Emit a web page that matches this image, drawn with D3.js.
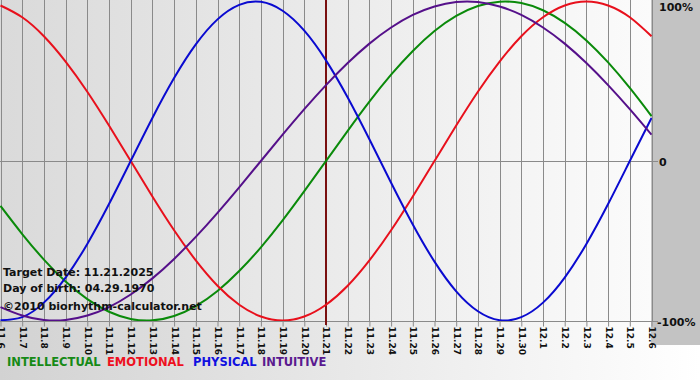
<!DOCTYPE html>
<html><head><meta charset="utf-8">
<script src="https://cdn.jsdelivr.net/npm/d3@7"></script>
<style>body{margin:0;padding:0;overflow:hidden}svg{display:block}text{font-family:"DejaVu Sans",Verdana,sans-serif}</style>
</head><body>
<svg id="c" width="700" height="380"></svg>
<script>
// ---- data ----
const days = ["11.6","11.7","11.8","11.9","11.10","11.11","11.12","11.13","11.14","11.15","11.16","11.17","11.18","11.19","11.20","11.21","11.22","11.23","11.24","11.25","11.26","11.27","11.28","11.29","11.30","12.1","12.2","12.3","12.4","12.5","12.6"];
const physical = [-0.998,-0.979,-0.888,-0.731,-0.520,-0.270,0,0.270,0.520,0.731,0.888,0.979,0.998,0.942,0.817,0.631,0.398,0.136,-0.136,-0.398,-0.631,-0.817,-0.942,-0.998,-0.979,-0.888,-0.731,-0.520,-0.270,0,0.270];
const emotional = [0.975,0.901,0.782,0.623,0.434,0.222,0,-0.222,-0.434,-0.623,-0.782,-0.901,-0.975,-1,-0.975,-0.901,-0.782,-0.623,-0.434,-0.222,0,0.222,0.434,0.623,0.782,0.901,0.975,1,0.975,0.901,0.782];
const intellectual = [-0.282,-0.458,-0.618,-0.756,-0.866,-0.945,-0.990,-0.999,-0.972,-0.910,-0.815,-0.690,-0.541,-0.372,-0.189,0,0.189,0.372,0.541,0.690,0.815,0.910,0.972,0.999,0.990,0.945,0.866,0.756,0.618,0.458,0.282];
const intuitive = [-0.916,-0.969,-0.997,-0.997,-0.969,-0.916,-0.837,-0.736,-0.614,-0.476,-0.325,-0.165,0,0.165,0.325,0.476,0.614,0.736,0.837,0.916,0.969,0.997,0.997,0.969,0.916,0.837,0.736,0.614,0.476,0.325,0.165];
const targetDay = "11.21";
const yTickLabels = [{v:1,t:"100%"},{v:0,t:"0"},{v:-1,t:"-100%"}];
const seriesNames = ["INTELLECTUAL","EMOTIONAL","PHYSICAL","INTUITIVE"];
const seriesColors = ["#0a8a0a","#e8101c","#0a0ad0","#55108a"];
const legendColors = ["#168a16","#ee1020","#1010e0","#5a1a90"];
const infoLines = ["Target Date: 11.21.2025","Day of birth: 04.29.1970","©2010 biorhythm-calculator.net"];

// ---- chart ----
const svg = d3.select("#c");
const W = 700, H = 380, PW = 651, PH = 321;
const defs = svg.append("defs");
const g1 = defs.append("linearGradient").attr("id","bg").attr("x1","0").attr("x2","1").attr("y1","0").attr("y2","0");
g1.append("stop").attr("offset","0").attr("stop-color","#d2d2d2");
g1.append("stop").attr("offset","1").attr("stop-color","#ffffff");
const g2 = defs.append("linearGradient").attr("id","pbg").attr("x1","0").attr("x2","1").attr("y1","0").attr("y2","0");
g2.append("stop").attr("offset","0").attr("stop-color","#dadada");
g2.append("stop").attr("offset","1").attr("stop-color","#fbfbfb");
defs.append("clipPath").attr("id","clip").append("rect").attr("x",0).attr("y",0).attr("width",PW+1).attr("height",PH);

svg.append("rect").attr("width",W).attr("height",H).attr("fill","url(#bg)");
svg.append("rect").attr("x",PW).attr("y",0).attr("width",W-PW).attr("height",345).attr("fill","#c3c3c3");
svg.append("rect").attr("x",0).attr("y",0).attr("width",PW).attr("height",PH).attr("fill","url(#pbg)");

const x = d3.scalePoint().domain(days).range([0.5, PW+0.5]).padding(0);
const y = d3.scaleLinear().domain([-1,1]).range([320.5,1.5]);

// vertical grid
svg.append("g").selectAll("line").data(days).join("line")
  .attr("x1",d=>Math.round(x(d))+0.5).attr("x2",d=>Math.round(x(d))+0.5)
  .attr("y1",0).attr("y2",PH).attr("stroke","#8a8a8a").attr("stroke-width",1);
// zero line
svg.append("line").attr("x1",0).attr("x2",PW+7).attr("y1",Math.round(y(0))+0.5).attr("y2",Math.round(y(0))+0.5)
  .attr("stroke","#8a8a8a");

// x axis
const ax = svg.append("g").attr("transform",`translate(0,${PH+0.5})`)
  .call(d3.axisBottom(x).tickSize(5).tickSizeOuter(0));
ax.select(".domain").attr("stroke","#8a8a8a").attr("d",`M0,0H${PW+7}`);
ax.selectAll(".tick line").attr("stroke","#8a8a8a");
ax.selectAll(".tick text").attr("transform","rotate(90)").attr("text-anchor","start")
  .attr("x",5).attr("y",0).attr("dy","0.34em")
  .attr("font-size","9px").attr("font-weight","bold").attr("fill","#111")
  .attr("font-family","DejaVu Sans");

// target line
svg.append("line").attr("x1",x(targetDay)).attr("x2",x(targetDay)).attr("y1",0).attr("y2",PH+4)
  .attr("stroke","#7a1010").attr("stroke-width",2);

// curves
const line = d3.line().x((d,i)=>x(days[i])).y(d=>y(d)).curve(d3.curveNatural);
const cg = svg.append("g").attr("clip-path","url(#clip)");
[intellectual, emotional, physical, intuitive].forEach((s,i)=>{
  cg.append("path").attr("d",line(s)).attr("fill","none").attr("stroke",seriesColors[i]).attr("stroke-width",2);
});

// y labels
svg.append("g").selectAll("text").data(yTickLabels).join("text")
  .attr("x",d=>d.v<0?657:659).attr("y",d=>y(d.v)+ (d.v>0?9.5:d.v<0?5.5:4.5))
  .attr("font-size","11px").attr("font-weight","bold").attr("fill","#111").text(d=>d.t);

// info text
svg.append("g").selectAll("text").data(infoLines).join("text")
  .attr("x",3).attr("y",(d,i)=>[276,292,310][i])
  .attr("font-size","11px").attr("font-weight","bold").attr("fill","#111").text(d=>d);

// legend
const legendX = [7,107,193,262];
svg.append("g").selectAll("text").data(seriesNames).join("text")
  .attr("x",(d,i)=>legendX[i]).attr("y",366)
  .attr("font-size","11.5px").attr("font-weight","bold")
  .attr("fill",(d,i)=>legendColors[i]).text(d=>d);
</script>
</body></html>
